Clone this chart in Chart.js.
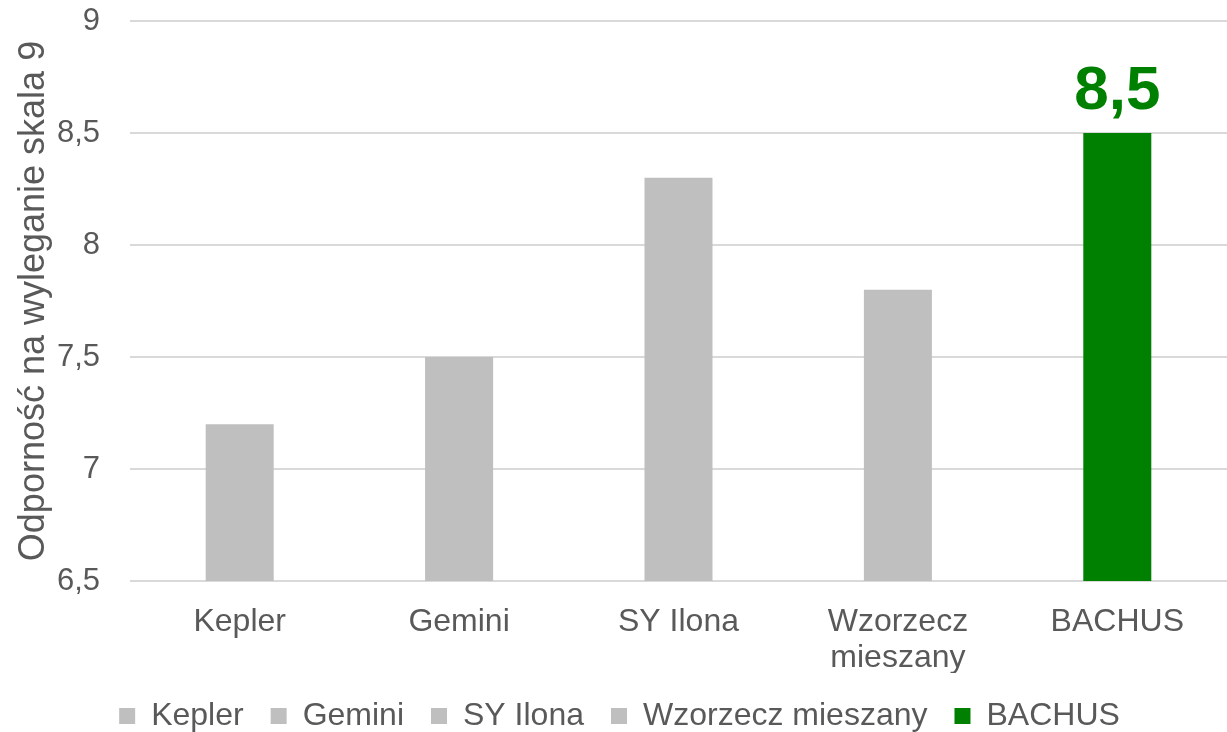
<!DOCTYPE html>
<html>
<head>
<meta charset="utf-8">
<script src="https://cdn.jsdelivr.net/npm/chart.js@4/dist/chart.umd.min.js"></script>
<style>
  html, body { margin: 0; padding: 0; background: #fff; }
  #wrap { width: 1227px; height: 732px; }
</style>
</head>
<body>
<div id="wrap"><canvas id="chart" width="1227" height="732"></canvas></div>
<script>
// ----- Data -----
const categories = ['Kepler', 'Gemini', 'SY Ilona', ['Wzorzecz', 'mieszany'], 'BACHUS'];
const legendNames = ['Kepler', 'Gemini', 'SY Ilona', 'Wzorzecz mieszany', 'BACHUS'];
const values = [7.2, 7.5, 8.3, 7.8, 8.5];
const barColors = ['#bfbfbf', '#bfbfbf', '#bfbfbf', '#bfbfbf', '#008000'];
const labelledIndex = 4;

const textColor = '#595959';
const fontFamily = '"Liberation Sans", Arial, sans-serif';

// ----- Value label above BACHUS -----
const valueLabel = {
    id: 'valueLabel',
    afterDatasetsDraw(chart) {
        const meta = chart.getDatasetMeta(0);
        const bar = meta.data[labelledIndex];
        const c = chart.ctx;
        c.save();
        c.font = 'bold 62px ' + fontFamily;
        c.fillStyle = barColors[labelledIndex];
        c.textAlign = 'center';
        c.textBaseline = 'alphabetic';
        c.fillText(String(values[labelledIndex]).replace('.', ','), bar.x, bar.y - 24);
        c.restore();
    }
};

new Chart(document.getElementById('chart'), {
    type: 'bar',
    data: {
        labels: categories,
        datasets: [{
            data: values,
            backgroundColor: barColors,
            barPercentage: 0.31,
            categoryPercentage: 1,
        }]
    },
    options: {
        responsive: false,
        animation: false,
        layout: { padding: { top: 21, right: 0, left: 12, bottom: -10 } },
        scales: {
            x: {
                grid: { display: false },
                border: { display: false },
                afterFit(scale) { scale.height = 92; },
                ticks: {
                    color: textColor,
                    font: { family: fontFamily, size: 32, lineHeight: 1.1 },
                    padding: 16,
                    maxRotation: 0,
                },
            },
            y: {
                min: 6.5,
                max: 9,
                afterFit(scale) {
                    scale.width = 118;
                    scale.paddingTop = 0;
                    scale.paddingBottom = 0;
                },
                grid: { color: '#d9d9d9', lineWidth: 2, drawTicks: false },
                border: { display: false },
                ticks: {
                    stepSize: 0.5,
                    color: textColor,
                    font: { family: fontFamily, size: 31 },
                    padding: 30,
                    callback: v => String(v).replace('.', ','),
                },
                title: {
                    display: true,
                    text: 'Odporność na wyleganie skala 9',
                    color: textColor,
                    font: { family: fontFamily, size: 36, weight: 'normal' },
                    padding: 0,
                },
            },
        },
        plugins: {
            tooltip: { enabled: false },
            legend: {
                position: 'bottom',
                labels: {
                    color: textColor,
                    font: { family: fontFamily, size: 32 },
                    boxWidth: 16,
                    boxHeight: 16,
                    padding: 27,
                    generateLabels: () => legendNames.map((name, i) => ({
                        text: name,
                        fillStyle: barColors[i],
                        strokeStyle: barColors[i],
                        lineWidth: 0,
                        fontColor: textColor,
                        index: i,
                    })),
                },
            },
        },
    },
    plugins: [valueLabel],
});
</script>
</body>
</html>
